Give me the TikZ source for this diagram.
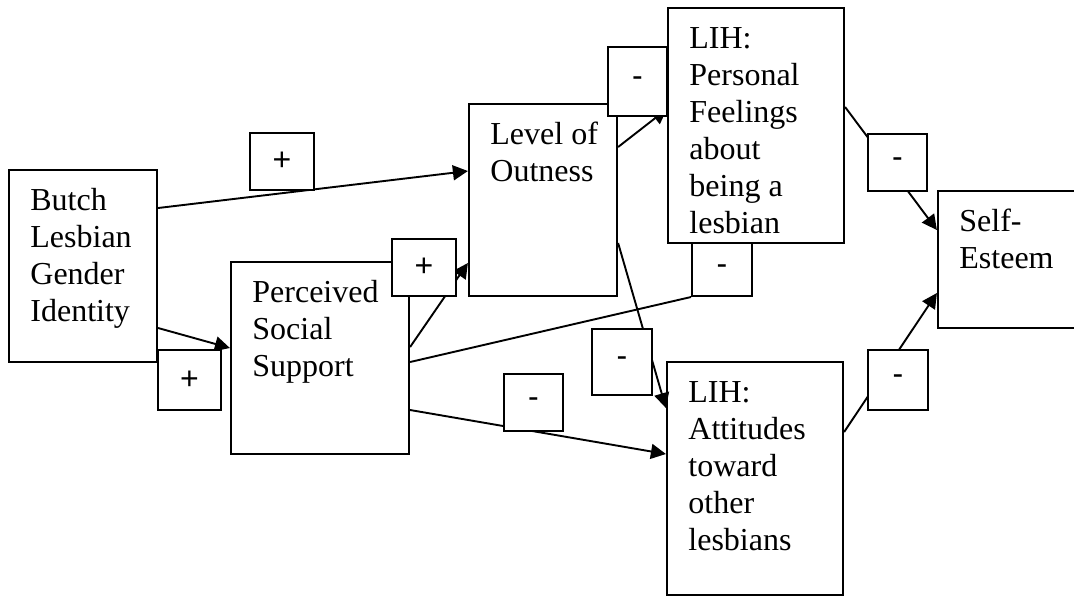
\documentclass[tikz,border=0pt]{standalone}
\usepackage{fontspec}
\setmainfont{Liberation Serif}
\newfontfamily\signfont{Liberation Sans}
\usetikzlibrary{arrows.meta}
\begin{document}
\begin{tikzpicture}[x=0.5pt,y=-0.5pt,
  box/.style={draw, line width=1.1pt, fill=white, inner sep=0pt},
  sign/.style={draw, line width=1pt, fill=white, inner sep=0pt, font=\signfont\fontsize{16}{18.5}\selectfont},
  txt/.style={anchor=base west, inner sep=0pt, font=\fontsize{16}{18.5}\selectfont},
  conn/.style={line width=0.95pt},
  arr/.style={conn, -{Triangle[length=7.5pt,width=7.5pt]}}]
\useasboundingbox (0,0) rectangle (1074,596);
\clip (0,0) rectangle (1074,596);
% main boxes
\node[box, minimum width=74pt, minimum height=96pt] (butch) at (83,266) {};
\node[box, minimum width=89pt, minimum height=96pt] (pss) at (320,358) {};
\node[box, minimum width=74pt, minimum height=96pt] (out) at (543,200) {};
\node[box, minimum width=88pt, minimum height=117.5pt] (lihp) at (756,125.5) {};
\node[box, minimum width=88pt, minimum height=116.5pt] (liha) at (755,478.5) {};
\node[box, minimum width=76pt, minimum height=68.5pt] (se) at (1014,259.5) {};
% texts
\node[txt] (butch-t) at (30,210) {\parbox[t]{100pt}{Butch\\Lesbian\\Gender\\Identity}};
\node[txt] (pss-t) at (252,302) {\parbox[t]{100pt}{Perceived\\Social\\Support}};
\node[txt] (out-t) at (490,144) {\parbox[t]{100pt}{Level of\\Outness}};
\node[txt] (lihp-t) at (689,48) {\parbox[t]{100pt}{LIH:\\Personal\\Feelings\\about\\being a\\lesbian}};
\node[txt] (liha-t) at (688,402) {\parbox[t]{100pt}{LIH:\\Attitudes\\toward\\other\\lesbians}};
\node[txt] (se-t) at (959,231) {\parbox[t]{100pt}{Self-\\Esteem}};
% connectors
\draw[arr] ([yshift=29pt]butch.east) -- ([yshift=14.5pt]out.west);
\draw[arr] ([yshift=-31pt]butch.east) -- ([yshift=5pt]pss.west);
\draw[arr] ([yshift=5.5pt]pss.east) -- ([yshift=-31.5pt]out.west);
\draw[arr] ([yshift=-26pt]pss.east) -- ([yshift=12.25pt]liha.west);
\draw[arr] ([yshift=26.5pt]out.east) -- ([yshift=8.25pt]lihp.west);
\draw[arr] ([yshift=-21.5pt]out.east) -- ([yshift=35.25pt]liha.west);
\draw[arr] ([yshift=9.25pt]lihp.east) -- ([yshift=14.75pt]se.west);
\draw[arr] ([yshift=23.25pt]liha.east) -- ([yshift=-16.75pt]se.west);
% sign boxes
\node[sign, minimum width=32pt, minimum height=28.5pt] (s1) at (282,161.5) {+};
\node[sign, minimum width=31.5pt, minimum height=30pt] (s2) at (189.5,380) {+};
\node[sign, minimum width=32pt, minimum height=28.5pt] (s3) at (424,267.5) {+};
\node[sign, minimum width=29.5pt, minimum height=34.5pt] (s4) at (637.5,81.5) {-};
\node[sign, minimum width=30pt, minimum height=26.5pt] (s5) at (722,269.5) {-};
\node[sign, minimum width=29.5pt, minimum height=28.5pt] (s6) at (533.5,402.5) {-};
\node[sign, minimum width=30pt, minimum height=33pt] (s7) at (622,362) {-};
\node[sign, minimum width=29.5pt, minimum height=28.5pt] (s8) at (897.5,162.5) {-};
\node[sign, minimum width=30pt, minimum height=30pt] (s9) at (898,380) {-};
\draw[conn] ([yshift=-2pt]pss.east) -- (s5.south west);
\end{tikzpicture}
\end{document}
